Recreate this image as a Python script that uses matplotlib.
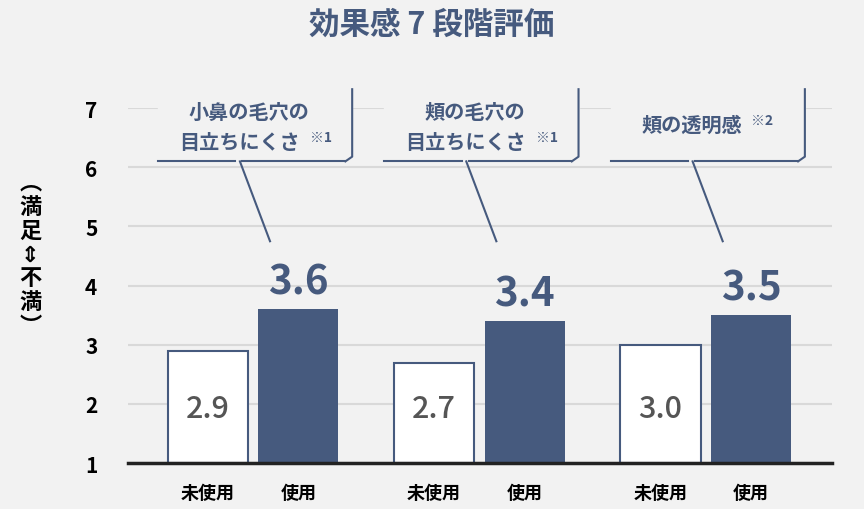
import matplotlib.pyplot as plt
import numpy as np

plt.rcParams["font.family"] = ["Noto Sans CJK JP", "DejaVu Sans"]

groups = ["小鼻の毛穴の\n目立ちにくさ", "頬の毛穴の\n目立ちにくさ", "頬の透明感"]
notes = ["※1", "※1", "※2"]
before = [2.9, 2.7, 3.0]
after = [3.6, 3.4, 3.5]
bar_labels = ["未使用", "使用"]

navy = "#465a7e"
bg = "#f2f2f2"

fig = plt.figure(figsize=(8.64, 5.1), dpi=100, facecolor=bg)
ax = fig.add_axes([0.148, 0.090, 0.815, 0.696], facecolor=bg)
ax.set_axisbelow(True)

x = np.arange(len(groups))
w = 0.354
off = 0.2
ax.bar(x - off, [b - 1 for b in before], w, bottom=1, color="white", edgecolor=navy, linewidth=1.5, zorder=3)
ax.bar(x + off, [a - 1 for a in after], w, bottom=1, color=navy, zorder=3)

for i in range(len(groups)):
    ax.text(x[i] - off, 1.93, f"{before[i]:.1f}", ha="center", va="center", fontsize=22,
            fontweight="medium", color="#555555", zorder=4)
    ax.text(x[i] + off, after[i] + 0.12, f"{after[i]:.1f}", ha="center", va="bottom", fontsize=29,
            fontweight="bold", color=navy, zorder=4)
    ax.text(x[i] - off, 0.51, bar_labels[0], ha="center", va="center", fontsize=13, fontweight="bold", clip_on=False)
    ax.text(x[i] + off, 0.51, bar_labels[1], ha="center", va="center", fontsize=13, fontweight="bold", clip_on=False)

    # callout box
    left, right, bot, top = x[i] - 0.42, x[i] + 0.438, 6.10, 7.32
    ax.fill_between([left, right], bot, 7.25, color=bg, zorder=5, clip_on=False)
    lx0, lx1 = x[i] - 0.058, x[i] + 0.075
    ax.plot([left, lx0 - 0.02], [bot, bot], color=navy, lw=1.5, zorder=6, clip_on=False)
    ax.plot([lx0 + 0.01, right - 0.03], [bot, bot], color=navy, lw=1.5, zorder=6, clip_on=False)
    ax.plot([right - 0.03, right, right], [bot, bot + 0.08, top], color=navy, lw=1.5, zorder=6,
            clip_on=False, solid_joinstyle="round")
    ax.plot([lx0, lx1], [bot, 4.75], color=navy, lw=1.5, zorder=6, clip_on=False)
    txt = groups[i]
    if "\n" in txt:
        l1, l2 = txt.split("\n")
        ax.text(x[i] - 0.02, 6.94, l1, ha="center", va="center", fontsize=14.5, fontweight="bold", color=navy, zorder=7)
        ax.text(x[i] - 0.06, 6.44, l2, ha="center", va="center", fontsize=14.5, fontweight="bold", color=navy, zorder=7)
        ax.text(x[i] + 0.25, 6.52, notes[i], ha="left", va="center", fontsize=10, fontweight="bold", color=navy, zorder=7)
    else:
        ax.text(x[i] - 0.06, 6.72, txt, ha="center", va="center", fontsize=14.5, fontweight="bold", color=navy, zorder=7)
        ax.text(x[i] + 0.20, 6.80, notes[i], ha="left", va="center", fontsize=10, fontweight="bold", color=navy, zorder=7)

ax.set_xlim(-0.553, 2.558)
ax.set_ylim(1, 7)
ax.set_yticks(range(1, 8))
ax.tick_params(axis="y", length=0, labelsize=15, pad=22)
for t in ax.get_yticklabels():
    t.set_fontweight("bold")
ax.set_xticks([])
ax.grid(axis="y", color="#d9d9d9", lw=1.5)
for s in ["top", "right", "left"]:
    ax.spines[s].set_visible(False)
ax.spines["bottom"].set_linewidth(2.5)
ax.spines["bottom"].set_color("#222222")
ax.spines["bottom"].set_zorder(4)

fig.text(0.035, 0.50, "\n".join("︵満足⇕不満︶"), ha="center", va="center", fontsize=16,
         fontweight="bold", linespacing=1.05)
fig.text(0.5, 0.951, "効果感 7 段階評価", ha="center", va="center", fontsize=22,
         fontweight="bold", color=navy)

fig.savefig("out.png", dpi=100, facecolor=bg)
